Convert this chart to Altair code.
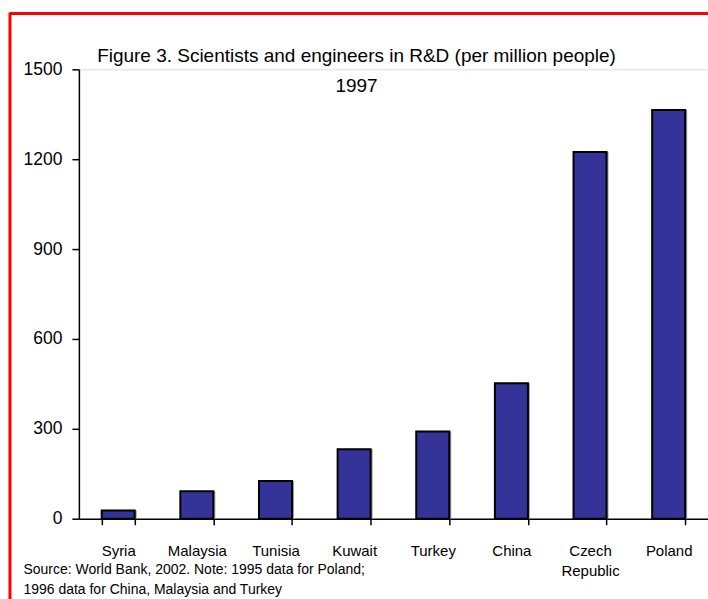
import altair as alt
import pandas as pd

countries = ["Syria", "Malaysia", "Tunisia", "Kuwait", "Turkey", "China", "Czech Republic", "Poland"]
values = [27, 92, 126, 232, 291, 452, 1224, 1364]
y_ticks = [0, 300, 600, 900, 1200, 1500]
title_lines = ["Figure 3. Scientists and engineers in R&D (per million people)", "1997"]
source_lines = ["Source: World Bank, 2002. Note: 1995 data for Poland;",
                "1996 data for China,  Malaysia and Turkey"]

df = pd.DataFrame({"country": countries, "value": values})
FONT = "Liberation Sans, Arial, sans-serif"

x_enc = alt.X("country:N", sort=countries,
              scale=alt.Scale(paddingInner=0.58, paddingOuter=0.29),
              axis=alt.Axis(
                  title=source_lines, titleX=-56, titleY=55, titleAlign="left",
                  titleAnchor="start", titleBaseline="alphabetic", titleFont=FONT,
                  titleFontSize=14, titleFontWeight="normal", titleLineHeight=20,
                  titleColor="black",
                  labelAngle=0, labelFont=FONT, labelFontSize=15, labelColor="black",
                  labelExpr="split(datum.label, ' ')", labelLineHeight=20,
                  labelPadding=19, tickBand="extent", tickSize=6, tickColor="black",
                  tickWidth=1.5, domainColor="black", domainWidth=1.5, grid=False))
y_enc = alt.Y("value:Q", scale=alt.Scale(domain=[0, 1500], nice=False),
              axis=alt.Axis(values=y_ticks, format="d", title=None, labelFont=FONT,
                            labelFontSize=17.5, labelColor="black", tickSize=7,
                            tickColor="black", tickWidth=1.5, labelPadding=10,
                            domainColor="black", domainWidth=1.5, grid=False))

shadow = alt.Chart(df).mark_bar(color="#a0a0a0", xOffset=2).encode(x=x_enc, y=y_enc)
bars = alt.Chart(df).mark_bar(
    color="#333399", stroke="black", strokeWidth=2
).encode(x=x_enc, y=y_enc)

frame_data = alt.Data(values=[{"k": 1}])
top_rule = alt.Chart(frame_data).mark_rule(color="#ff0000", strokeWidth=3).encode(
    x=alt.value(-69), x2=alt.value(660), y=alt.value(-56))
left_rule = alt.Chart(frame_data).mark_rule(color="#ff0000", strokeWidth=3).encode(
    x=alt.value(-69), y=alt.value(-57), y2=alt.value(560))
title = alt.Chart(frame_data).mark_text(
    font=FONT, fontSize=19, color="black", align="center",
    baseline="alphabetic", lineHeight=30
).encode(x=alt.value(278), y=alt.value(-7), text=alt.value(title_lines))

chart = alt.layer(shadow, bars, top_rule, left_rule, title).properties(
    width=630, height=450,
    autosize=alt.AutoSizeParams(type="none"),
    padding={"left": 79, "top": 69, "right": 0, "bottom": 80},
).configure_view(strokeWidth=0, stroke="transparent").configure(background="white")

chart.save("out.html", embed_options={"renderer": "svg", "actions": False})
